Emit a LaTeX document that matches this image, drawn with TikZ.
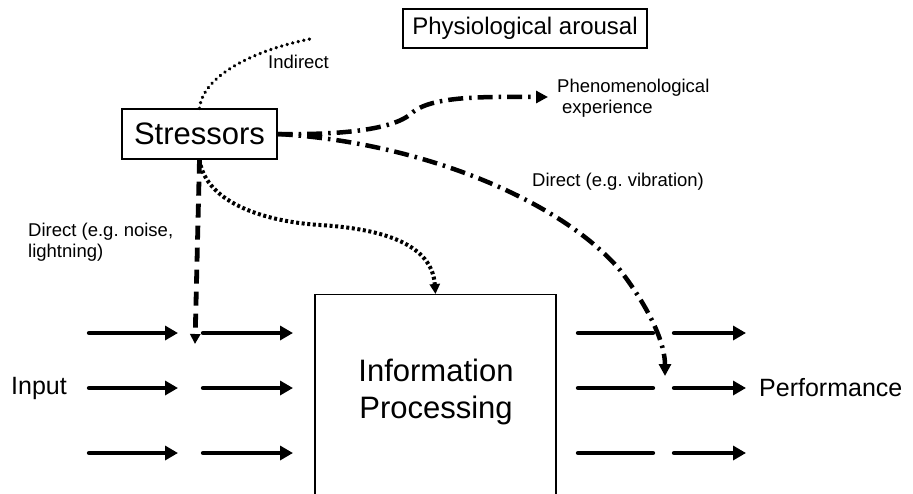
\documentclass[tikz,border=0pt]{standalone}
\usepackage{fontspec}
\setmainfont{Liberation Sans}
\usetikzlibrary{arrows.meta}
\frenchspacing
\begin{document}
\begin{tikzpicture}[x=1pt,y=-1pt,
  box/.style={draw,line width=1.4pt,inner sep=0pt},
  big/.style={font=\fontsize{31}{37}\selectfont},
  mid/.style={font=\fontsize{25}{30}\selectfont},
  pafont/.style={font=\fontsize{24}{28}\selectfont},
  small/.style={font=\fontsize{18.5}{20.5}\selectfont},
  label/.style={inner sep=0pt},
  flow/.style={line width=4.3pt,line cap=round,-{Triangle[length=13pt,width=14pt]}},
  flowline/.style={line width=4.3pt,line cap=round},
  dashdot/.style={line width=4.5pt,dash pattern=on 15pt off 6pt on 2.5pt off 6pt,-{Triangle[length=12pt,width=12pt]}},
  indots/.style={line width=3.6pt,line cap=round,dash pattern=on 0.1pt off 5.6pt},
  procdots/.style={line width=4pt,dash pattern=on 3pt off 2.6pt,-{Triangle[length=10pt,width=10pt]}},
  dasharrow/.style={line width=4.8pt,dash pattern=on 14pt off 8pt,-{Triangle[length=10pt,width=10pt]}}
]
\path[use as bounding box] (0,0) rectangle (913,493);
\clip (0,0) rectangle (913,493);

% boxes
\node[box,big,minimum width=155pt,minimum height=50pt] (st) at (199.5,134) {Stressors};
\node[box,pafont,minimum width=244pt,minimum height=39pt] (pa) at (525,28.5) {Physiological arousal};
\node[box,minimum width=241pt,minimum height=260pt,anchor=north] (ip) at (435.5,294) {};
\node[big,align=center,label] (iptext) at (436,392) {Information\\Processing};

% labels
\node[small,label,anchor=west] (indlab) at (268,62) {Indirect};
\node[small,label,anchor=north west,align=left] (phen) at (557,79) {Phenomenological\\\hspace*{5pt}experience};
\node[small,label,anchor=west] (vib) at (532,182) {Direct (e.g. vibration)};
\node[small,label,anchor=north west,align=left] (noise) at (28,223) {Direct (e.g. noise,\\lightning)};
\node[mid,label,anchor=west] (input) at (11,388) {Input};
\node[mid,label,anchor=west] (perf) at (759,388) {Performance};

% free ends
\coordinate (indend) at (310,39);
\coordinate (phenend) at (548,97);
\coordinate (vibend) at (665,376);
\coordinate (noiseend) at (195,344);

% stressor connectors
\draw[indots] (st.north) .. controls (203,75) and (255,50) .. (indend);
\draw[dasharrow] (st.south) -- (noiseend);
\draw[procdots] (st.south) .. controls (206,205) and (270,222) .. (320,225)
  .. controls (385,229) and (432,245) .. (ip.north);
\draw[dashdot] (st.east) .. controls (340,135) and (395,130) .. (413,112)
  .. controls (435,95) and (490,97) .. (phenend);
\draw[dashdot] (st.east) .. controls (420,142) and (560,200) .. (620,270)
  .. controls (652,312) and (665,345) .. (vibend);

% input and output arrows
\foreach \y [count=\i] in {333,388,453}{
  \coordinate (ina\i) at (89,\y);
  \coordinate (inb\i) at (178,\y);
  \coordinate (inc\i) at (203,\y);
  \coordinate (ind\i) at (293,\y);
  \draw[flow] (ina\i) -- (inb\i);
  \draw[flow] (inc\i) -- (ind\i);
  \coordinate (outa\i) at (578,\y);
  \coordinate (outb\i) at (653,\y);
  \coordinate (outc\i) at (674,\y);
  \coordinate (outd\i) at (746,\y);
  \draw[flowline] (outa\i) -- (outb\i);
  \draw[flow] (outc\i) -- (outd\i);
}
\end{tikzpicture}
\end{document}
